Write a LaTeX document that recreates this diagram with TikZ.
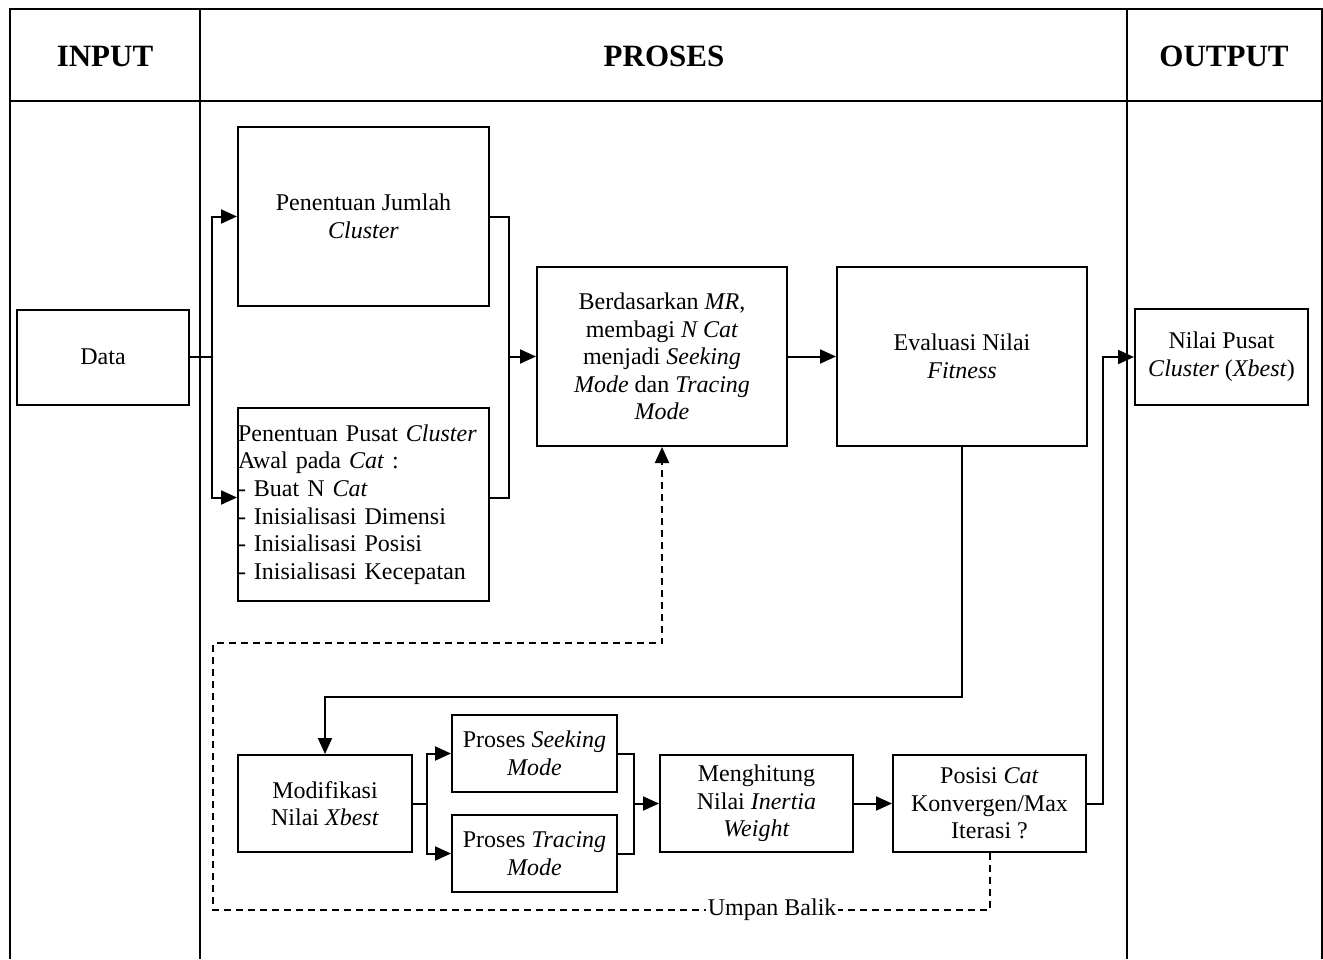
\documentclass[tikz,border=0pt]{standalone}
\usepackage{fontspec}
\setmainfont{Liberation Serif}
\usepackage{tikz}
\usetikzlibrary{arrows.meta,positioning}

\begin{document}
\begin{tikzpicture}[x=0.5pt,y=-0.5pt,>={Triangle[length=8pt,width=7pt]},font=\fontsize{12}{13.8}\selectfont]
    \tikzstyle{frame} = [black, line width=0.7pt]
    \tikzstyle{header} = [font=\fontsize{15.5}{18}\selectfont\bfseries]
    \tikzstyle{proc} = [shape=rectangle, draw=black, line width=1pt, align=center, inner sep=2pt]
    \tikzstyle{flow} = [->, black, line width=1pt]
    \tikzstyle{feedback} = [->, black, line width=1pt, dash pattern=on 3.5pt off 2.5pt]
    \useasboundingbox (0,0) rectangle (1323,959);

    % kolom tabel
    \draw[frame] (10,959) -- (10,9) -- (1322,9) -- (1322,959);
    \draw[frame] (10,101) -- (1322,101);
    \draw[frame] (200,9) -- (200,959);
    \draw[frame] (1127,9) -- (1127,959);
    \node[header] (hinput) at (105,56) {INPUT};
    \node[header] (hproses) at (664,56) {PROSES};
    \node[header] (houtput) at (1224,56) {OUTPUT};

    % blok proses
    \node[proc, minimum width=86pt, minimum height=47.5pt] (data) at (103,357) {Data};
    \node[proc, minimum width=125.5pt, minimum height=89.5pt] (jumlah) at (363.5,216.5) {Penentuan Jumlah\\\textit{Cluster}};
    \node[proc, text width=125.5pt, inner sep=0pt, minimum height=96.5pt, align=left] (pusat) at (363.5,504.5) {Penentuan Pusat \textit{Cluster}\\Awal pada \textit{Cat} :\\- Buat N \textit{Cat}\\- Inisialisasi Dimensi\\- Inisialisasi Posisi\\- Inisialisasi Kecepatan};
    \node[proc, minimum width=125pt, minimum height=89.5pt] (berdasar) at (662,356.5) {Berdasarkan \textit{MR},\\membagi \textit{N Cat}\\menjadi \textit{Seeking}\\\textit{Mode} dan \textit{Tracing}\\\textit{Mode}};
    \node[proc, minimum width=125pt, minimum height=89.5pt] (evaluasi) at (962,356.5) {Evaluasi Nilai\\\textit{Fitness}};
    \node[proc, minimum width=86.5pt, minimum height=48pt] (nilai) at (1221.5,357) {Nilai Pusat\\\textit{Cluster} (\textit{Xbest})};
    \node[proc, minimum width=87pt, minimum height=48.5pt] (modif) at (325,803.5) {Modifikasi\\Nilai \textit{Xbest}};
    \node[proc, minimum width=82.5pt, minimum height=38.5pt] (seeking) at (534.5,753.5) {Proses \textit{Seeking}\\\textit{Mode}};
    \node[proc, minimum width=82.5pt, minimum height=38.5pt] (tracing) at (534.5,853.5) {Proses \textit{Tracing}\\\textit{Mode}};
    \node[proc, minimum width=96.5pt, minimum height=48.5pt] (hitung) at (756.5,803.5) {Menghitung\\Nilai \textit{Inertia}\\\textit{Weight}};
    \node[proc, minimum width=96.5pt, minimum height=48.5pt] (posisi) at (989.5,803.5) {Posisi \textit{Cat}\\Konvergen/Max\\Iterasi ?};

    % percabangan dan penggabungan
    \coordinate (splitA) at (212,357);
    \coordinate (mergeA) at (509,356.5);
    \coordinate (splitB) at (427,803.5);
    \coordinate (mergeB) at (634,803.5);

    \draw[flow, -] (data.east) -- (splitA);
    \draw[flow] (splitA) |- (jumlah.west);
    \draw[flow] (splitA) |- ([yshift=3.5pt]pusat.west);
    \draw[flow, -] (jumlah.east) -| (mergeA) |- ([yshift=3.5pt]pusat.east);
    \draw[flow] (mergeA) -- (berdasar.west);
    \draw[flow] (berdasar) -- (evaluasi);
    \draw[flow] (evaluasi.south) -- ++(0,250) -| (modif.north);
    \draw[flow, -] (modif.east) -- (splitB);
    \draw[flow] (splitB) |- (seeking.west);
    \draw[flow] (splitB) |- (tracing.west);
    \draw[flow, -] (seeking.east) -| (mergeB) |- (tracing.east);
    \draw[flow] (mergeB) -- (hitung.west);
    \draw[flow] (hitung) -- (posisi);
    \draw[flow] (posisi.east) -- ++(16,0) |- (nilai.west);

    % umpan balik
    \draw[feedback] (posisi.south) -- ++(0,57) -| node[pos=0.14, fill=white, inner sep=1pt] (umpan) {Umpan Balik} (213,643) -| (berdasar.south);
\end{tikzpicture}
\end{document}
